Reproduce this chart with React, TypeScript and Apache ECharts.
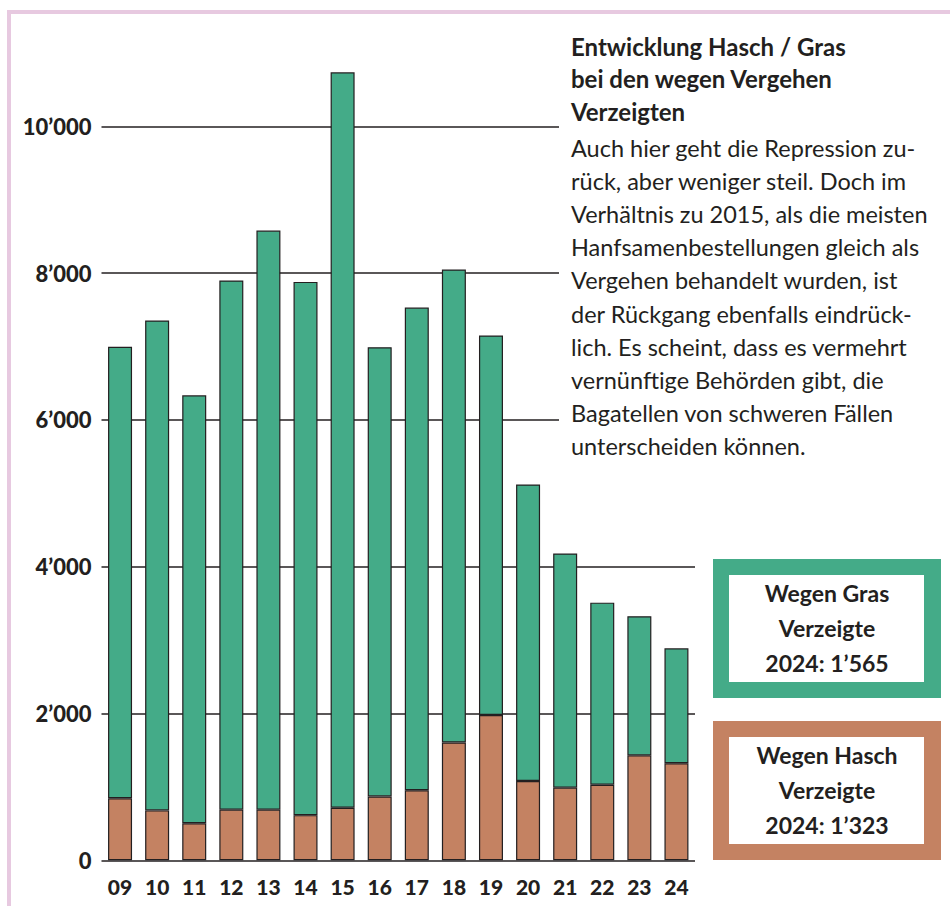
import React, { useEffect, useRef } from "react";
import * as echarts from "echarts";

const years = ["09", "10", "11", "12", "13", "14", "15", "16", "17", "18", "19", "20", "21", "22", "23", "24"];
const haschValues = [845, 680, 505, 690, 690, 615, 715, 870, 955, 1605, 1980, 1080, 990, 1030, 1430, 1323];
const grasValues = [6150, 6675, 5830, 7210, 7890, 7265, 10020, 6120, 6575, 6445, 5170, 4040, 3190, 2480, 1895, 1565];

const titleLines = ["Entwicklung Hasch / Gras", "bei den wegen Vergehen", "Verzeigten"];
const bodyLines = [
  "Auch hier geht die Repression zu-",
  "rück, aber weniger steil. Doch im",
  "Verhältnis zu 2015, als die meisten",
  "Hanfsamenbestellungen gleich als",
  "Vergehen behandelt wurden, ist",
  "der Rückgang ebenfalls eindrück-",
  "lich. Es scheint, dass es vermehrt",
  "vernünftige Behörden gibt, die",
  "Bagatellen von schweren Fällen",
  "unterscheiden können.",
];
const grasBoxLines = ["Wegen Gras", "Verzeigte", "2024: 1’565"];
const haschBoxLines = ["Wegen Hasch", "Verzeigte", "2024: 1’323"];

const GREEN = "#44ab88";
const BROWN = "#c48262";
const INK = "#231f20";
const FONT = "Lato, 'Open Sans', sans-serif";

function fmt(v: number): string {
  const s = String(Math.round(v));
  return s.replace(/\B(?=(\d{3})+(?!\d))/g, "’");
}

export default function App() {
  const ref = useRef<HTMLDivElement>(null);
  useEffect(() => {
    if (!ref.current) return;
    const chart = echarts.init(ref.current, null, { renderer: "svg" });

    const graphics: any[] = [];
    graphics.push({ type: "rect", z: 50, shape: { x: 7, y: 10, width: 4, height: 900 }, style: { fill: "#e7c9e0" } });
    graphics.push({ type: "rect", z: 50, shape: { x: 7, y: 10, width: 950, height: 4 }, style: { fill: "#e7c9e0" } });
    graphics.push({ type: "rect", z: 50, shape: { x: 559, y: 22, width: 385, height: 450 }, style: { fill: "#ffffff" } });
    titleLines.forEach((t, i) => {
      graphics.push({
        type: "text", z: 60, x: 571, y: 46 + i * 32.5,
        style: { text: t, fill: INK, font: `bold 24px ${FONT}`, textVerticalAlign: "middle", textAlign: "left" },
      });
    });
    bodyLines.forEach((t, i) => {
      graphics.push({
        type: "text", z: 60, x: 571, y: 148 + i * 33.1,
        style: { text: t, fill: INK, font: `23.5px ${FONT}`, textVerticalAlign: "middle", textAlign: "left" },
      });
    });
    const box = (y: number, color: string, lines: string[]) => {
      graphics.push({ type: "rect", z: 60, shape: { x: 713, y, width: 228, height: 139 }, style: { fill: color } });
      graphics.push({ type: "rect", z: 61, shape: { x: 729, y: y + 16, width: 195, height: 107 }, style: { fill: "#ffffff" } });
      lines.forEach((t, i) => {
        graphics.push({
          type: "text", z: 62, x: 827, y: y + 34 + i * 35,
          style: { text: t, fill: INK, font: `bold 23px ${FONT}`, textVerticalAlign: "middle", textAlign: "center" },
        });
      });
    };
    box(559, GREEN, grasBoxLines);
    box(721, BROWN, haschBoxLines);

    chart.setOption({
      animation: false,
      backgroundColor: "#ffffff",
      grid: { left: 101.5, right: 255, top: 52.9, bottom: 45.7, containLabel: false },
      xAxis: {
        type: "category",
        data: years,
        axisLine: { show: false },
        axisTick: { show: false },
        axisLabel: { color: INK, fontFamily: FONT, fontWeight: 900, fontSize: 21, margin: 16 },
      },
      yAxis: {
        type: "value",
        min: 0,
        max: 11000,
        interval: 2000,
        axisLine: { show: false },
        axisTick: { show: false },
        splitLine: { show: true, showMaxLine: false, lineStyle: { color: INK, width: 1.5 } },
        axisLabel: {
          showMaxLabel: false,
          color: INK, fontFamily: FONT, fontWeight: 900, fontSize: 22, margin: 10,
          formatter: (v: number) => (v >= 11000 ? "" : fmt(v)),
        },
      },
      series: [
        {
          name: "Hasch",
          type: "bar",
          stack: "total",
          data: haschValues,
          barWidth: 24,
          itemStyle: { color: BROWN, borderColor: INK, borderWidth: 1.2 },
        },
        {
          name: "Gras",
          type: "bar",
          stack: "total",
          data: grasValues,
          barWidth: 24,
          itemStyle: { color: GREEN, borderColor: INK, borderWidth: 1.2 },
        },
      ],
      graphic: graphics,
    });
    return () => chart.dispose();
  }, []);
  return <div ref={ref} style={{ position: "absolute", left: 0, top: 0, width: 950, height: 906 }} />;
}
